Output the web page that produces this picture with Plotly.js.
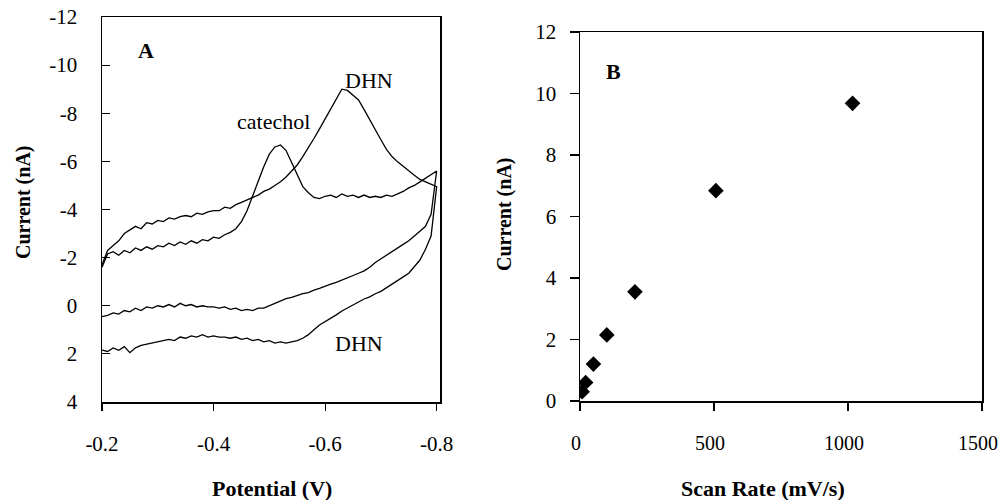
<!DOCTYPE html>
<html>
<head>
<meta charset="utf-8">
<script src="https://cdn.plot.ly/plotly-3.0.1.min.js"></script>
<style>
  html, body { margin: 0; padding: 0; background: #ffffff; }
  #chart { width: 1000px; height: 500px; }
</style>
</head>
<body>
<div id="chart"></div>
<script>
// Potential grid for the cyclic voltammograms (V), from -0.2 V to the -0.8 V vertex
const potential = [
  -0.20, -0.21, -0.22, -0.23, -0.24, -0.25, -0.26, -0.27, -0.28, -0.29,
  -0.30, -0.31, -0.32, -0.33, -0.34, -0.35, -0.36, -0.37, -0.38, -0.39,
  -0.40, -0.41, -0.42, -0.43, -0.44, -0.45, -0.46, -0.47, -0.48, -0.49,
  -0.50, -0.51, -0.52, -0.53, -0.54, -0.55, -0.56, -0.57, -0.58, -0.59,
  -0.60, -0.61, -0.62, -0.63, -0.64, -0.65, -0.66, -0.67, -0.68, -0.69,
  -0.70, -0.71, -0.72, -0.73, -0.74, -0.75, -0.76, -0.77, -0.78, -0.79,
  -0.80
];

// Catechol: forward sweep (towards -0.8 V) and return sweep, current in nA
const catecholForward = [
  -1.6, -2.15, -2.25, -2.1, -2.3, -2.2, -2.4, -2.3, -2.45, -2.35,
  -2.5, -2.45, -2.6, -2.5, -2.65, -2.55, -2.7, -2.6, -2.75, -2.7,
  -2.85, -2.8, -2.95, -3.05, -3.2, -3.5, -3.95, -4.55, -5.2, -5.78,
  -6.3, -6.6, -6.68, -6.45, -5.95, -5.45, -4.95, -4.7, -4.5, -4.45,
  -4.55, -4.6, -4.5, -4.65, -4.55, -4.6, -4.5, -4.6, -4.5, -4.55,
  -4.5, -4.6, -4.55, -4.65, -4.75, -4.9, -5.0, -5.15, -5.3, -5.45,
  -5.6
];
const catecholReturn = [
  0.45, 0.4, 0.3, 0.35, 0.2, 0.25, 0.1, 0.2, 0.05, 0.1,
  0.0, 0.05, -0.05, 0.05, -0.1, 0.0, -0.05, 0.05, 0.0, 0.05,
  0.05, 0.1, 0.05, 0.15, 0.1, 0.2, 0.15, 0.2, 0.1, 0.1,
  0.0, -0.1, -0.2, -0.3, -0.35, -0.42, -0.5, -0.55, -0.65, -0.72,
  -0.8, -0.9, -0.97, -1.07, -1.15, -1.25, -1.35, -1.45, -1.6, -1.8,
  -1.95, -2.1, -2.25, -2.4, -2.55, -2.7, -2.9, -3.1, -3.3, -3.8,
  -5.6
];

// DHN: forward sweep and return sweep, current in nA
const dhnForward = [
  -1.7, -2.3, -2.5, -2.7, -3.0, -3.15, -3.3, -3.2, -3.45, -3.4,
  -3.55, -3.5, -3.65, -3.6, -3.7, -3.75, -3.7, -3.85, -3.8, -3.9,
  -3.95, -3.95, -4.1, -4.05, -4.2, -4.3, -4.4, -4.5, -4.6, -4.75,
  -4.85, -5.0, -5.15, -5.35, -5.6, -5.85, -6.2, -6.55, -6.95, -7.35,
  -7.75, -8.15, -8.55, -9.0, -8.95, -8.75, -8.55, -8.15, -7.72, -7.3,
  -6.9, -6.5, -6.2, -5.98, -5.78, -5.6, -5.42, -5.25, -5.15, -5.05,
  -4.95
];
const dhnReturn = [
  1.84, 1.9, 1.75, 1.85, 1.7, 1.95, 1.75, 1.65, 1.6, 1.55,
  1.5, 1.45, 1.4, 1.45, 1.3, 1.35, 1.25, 1.3, 1.2, 1.3,
  1.25, 1.3, 1.3, 1.35, 1.3, 1.4, 1.35, 1.45, 1.4, 1.5,
  1.45, 1.55, 1.5, 1.55, 1.5, 1.45, 1.35, 1.2, 1.0, 0.8,
  0.65, 0.52, 0.38, 0.22, 0.08, -0.05, -0.15, -0.28, -0.37, -0.5,
  -0.6, -0.75, -0.88, -1.05, -1.2, -1.35, -1.6, -1.9, -2.35, -2.9,
  -4.95
];

// Peak current versus scan rate
const scanRate = [8, 21, 50, 100, 205, 507, 1017];
const peakCurrent = [0.30, 0.60, 1.20, 2.15, 3.55, 6.84, 9.68];

// Tick labels (plain hyphen-minus)
const potentialTicks = [-0.2, -0.4, -0.6, -0.8];
const potentialTickText = ['-0.2', '-0.4', '-0.6', '-0.8'];
const currentTicksA = [-12, -10, -8, -6, -4, -2, 0, 2, 4];
const currentTickTextA = ['-12', '-10', '-8', '-6', '-4', '-2', '0', '2', '4'];
const rateTicks = [0, 500, 1000, 1500];
const currentTicksB = [0, 2, 4, 6, 8, 10, 12];

// Full sweep = forward branch followed by the return branch back to -0.2 V
const loopX = potential.concat(potential.slice().reverse());
const catecholY = catecholForward.concat(catecholReturn.slice().reverse());
const dhnY = dhnForward.concat(dhnReturn.slice().reverse());

const serif = 'Liberation Serif, Times New Roman, serif';
const tickFont = { family: serif, size: 21, color: '#000' };
const textFont = { family: serif, size: 22, color: '#000' };
const titleFont = { family: serif, size: 20, color: '#000' };
const lineStyle = { color: '#000', width: 1.3 };

const traces = [
  { x: loopX, y: catecholY, xaxis: 'x', yaxis: 'y', mode: 'lines', line: lineStyle, name: 'catechol', hoverinfo: 'skip' },
  { x: loopX, y: dhnY, xaxis: 'x', yaxis: 'y', mode: 'lines', line: lineStyle, name: 'DHN', hoverinfo: 'skip' },
  { x: scanRate, y: peakCurrent, xaxis: 'x2', yaxis: 'y2', mode: 'markers',
    marker: { symbol: 'diamond', size: 12, color: '#000' }, name: 'peak current' }
];

const frame = {
  showline: true, mirror: true, linecolor: '#000', linewidth: 1.5,
  showgrid: false, zeroline: false, tickcolor: '#000', tickwidth: 1.2,
  tickfont: tickFont, fixedrange: true, ticklabeloverflow: 'allow'
};

// Centered text helper for annotations
function label(text, xref, yref, x, y, font, angle) {
  return { text: text, xref: xref, yref: yref, x: x, y: y, showarrow: false,
           xanchor: 'center', yanchor: 'middle', font: font, textangle: angle || 0 };
}

const layout = {
  width: 1000, height: 500,
  margin: { l: 0, r: 0, t: 0, b: 0 },
  paper_bgcolor: '#fff', plot_bgcolor: '#fff',
  showlegend: false,
  xaxis: Object.assign({}, frame, {
    domain: [0.102, 0.440], range: [-0.2, -0.806],
    tickmode: 'array', tickvals: potentialTicks, ticktext: potentialTickText,
    ticks: 'outside', ticklen: 7, ticklabelstandoff: 15
  }),
  yaxis: Object.assign({}, frame, {
    domain: [0.196, 0.966], range: [4, -12],
    tickmode: 'array', tickvals: currentTicksA, ticktext: currentTickTextA,
    ticks: 'inside', ticklen: 8, ticklabelstandoff: 19
  }),
  xaxis2: Object.assign({}, frame, {
    anchor: 'y2', domain: [0.580, 0.982], range: [0, 1500],
    tickmode: 'array', tickvals: rateTicks,
    tickfont: { family: serif, size: 20, color: '#000' },
    ticks: 'outside', ticklen: 8, ticklabelstandoff: 15, ticklabelshift: -4
  }),
  yaxis2: Object.assign({}, frame, {
    anchor: 'x2', domain: [0.198, 0.936], range: [0, 12],
    tickmode: 'array', tickvals: currentTicksB,
    ticks: 'outside', ticklen: 9, ticklabelstandoff: 9
  }),
  annotations: [
    label('<b>A</b>', 'paper', 'paper', 0.146, 1 - 51 / 500, textFont),
    label('<b>B</b>', 'paper', 'paper', 0.613, 1 - 71 / 500, textFont),
    label('catechol', 'x', 'y', -0.508, -7.64, textFont),
    label('DHN', 'x', 'y', -0.678, -9.38, textFont),
    label('DHN', 'x', 'y', -0.66, 1.55, textFont),
    label('<b>Potential (V)</b>', 'paper', 'paper', 0.272, 1 - 488 / 500, textFont),
    label('<b>Scan Rate (mV/s)</b>', 'paper', 'paper', 0.763, 1 - 488 / 500, textFont),
    label('<b>Current (nA)</b>', 'paper', 'paper', 0.023, 1 - 202 / 500, titleFont, -90),
    label('<b>Current (nA)</b>', 'paper', 'paper', 0.505, 1 - 214 / 500, titleFont, -90)
  ]
};

Plotly.newPlot('chart', traces, layout, { staticPlot: true, displayModeBar: false });
</script>
</body>
</html>
